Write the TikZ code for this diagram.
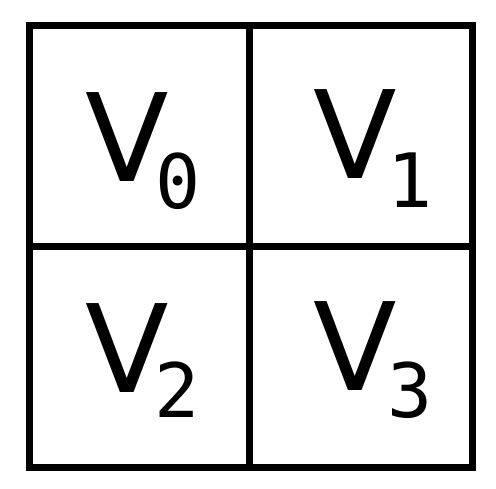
\documentclass[tikz,border=0pt]{standalone}
\usepackage{fontspec}
\newfontfamily\vfont{DejaVu Sans}
\newfontfamily\subfont{DejaVu Sans Mono}

\begin{document}
\begin{tikzpicture}
[x=1pt,y=-1pt,lbl/.style={inner sep=0pt,anchor=base west,font=\vfont\fontsize{122}{130}\selectfont},]

%Grid corners and middle
\def\xl{29}
\def\xr{472.5}
\def\yt{25.5}
\def\yb{467.5}
\def\xm{249.5}
\def\ym{246.5}

\useasboundingbox (0,0) rectangle (496,488);

%Drawing grid
\draw[line width=7pt] (\xl,\yt) rectangle (\xr,\yb);
\draw[line width=7pt] (\xm,\yt) -- (\xm,\yb);
\draw[line width=7pt] (\xl,\ym) -- (\xr,\ym);

%Labeling cells
\node (v0) at (85,181)[lbl] {V\kern-13pt\raisebox{-27pt}{\subfont\fontsize{75}{80}\selectfont 0}};
\node (v1) at (313,178)[lbl] {V\kern-9pt\raisebox{-29pt}{\subfont\fontsize{75}{80}\selectfont 1}};
\node (v2) at (85,392)[lbl] {V\kern-14pt\raisebox{-25pt}{\subfont\fontsize{75}{80}\selectfont 2}};
\node (v3) at (313,390)[lbl] {V\kern-9pt\raisebox{-27pt}{\subfont\fontsize{75}{80}\selectfont 3}};

\end{tikzpicture}
\end{document}
